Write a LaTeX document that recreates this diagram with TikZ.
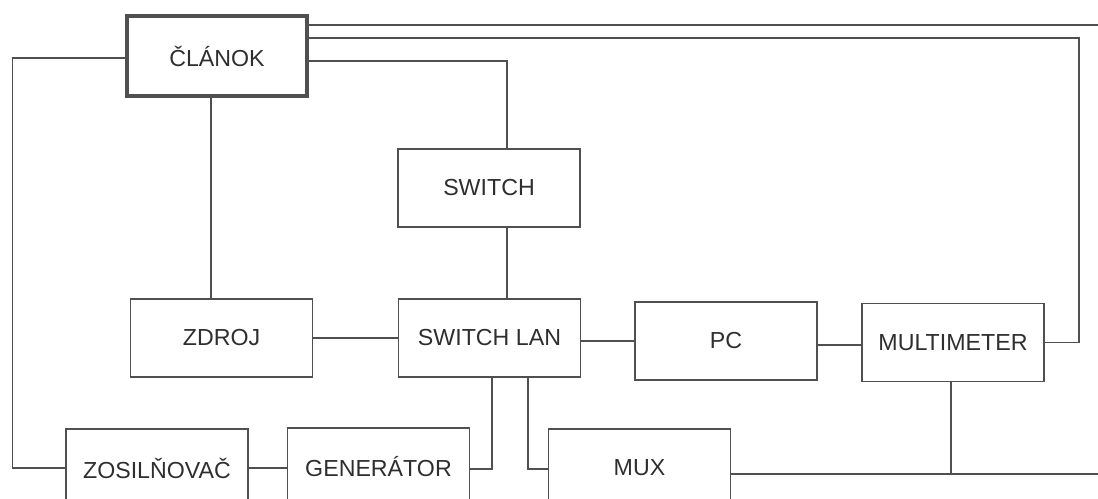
\documentclass[tikz,border=0pt]{standalone}
\usepackage{fontspec}
\setmainfont{Liberation Sans}
\usetikzlibrary{calc}

\definecolor{linegray}{HTML}{505050}
\definecolor{textgray}{HTML}{2E2E2E}

\begin{document}
\begin{tikzpicture}[
        x=0.025cm, y=-0.025cm,
        block/.style={
            draw=linegray,
            line width=1.3pt,
            minimum width=4.55cm,
            minimum height=1.95cm,
            inner sep=0pt,
            text=textgray,
            font=\fontsize{16.5}{19}\selectfont
        },
        mainblock/.style={block, line width=2.7pt, minimum width=4.5cm, minimum height=2cm},
        link/.style={draw=linegray, line width=1.3pt}
    ]

    \useasboundingbox (0,0) rectangle (1098,499);
    \clip (0,0) rectangle (1098,499);

    \node[mainblock] (clanok) at (217,56) {ČLÁNOK};

    \node[block] (switch) at (489,188) {SWITCH};

    \node[block] (zdroj) at (221.5,338) {ZDROJ};
    \node[block] (swlan) at (489.5,338) {SWITCH LAN};
    \node[block] (pc) at (726,341) {PC};
    \node[block] (multi) at (953,342.5) {MULTIMETER};

    \node[block] (zosil) at (157,468) {ZOSILŇOVAČ};
    \node[block] (gen) at (378.5,467) {GENERÁTOR};
    \node[block] (mux) at (639.5,468) {MUX};

    % turning points of the connectors
    \coordinate (topout) at (1110,25);
    \coordinate (mmturn) at (1079,38);
    \coordinate (swturn) at (507,61);
    \coordinate (leftturn) at (12.5,58);
    \coordinate (genturn) at (492,469);
    \coordinate (muxturn) at (528,469);
    \coordinate (botout) at (1110,474);
    \coordinate (mmjoin) at (951,474);

    \draw[link] (clanok.east |- topout) -- (topout);
    \draw[link] (clanok.east |- mmturn) -- (mmturn) |- (multi.east);
    \draw[link] (clanok.east |- swturn) -- (swturn) -- (swturn |- switch.north);
    \draw[link] (clanok.west |- leftturn) -- (leftturn) |- (zosil.west);
    \draw[link] ([xshift=-0.15cm]clanok.south) -- ([xshift=-0.15cm]clanok.south |- zdroj.north);

    \draw[link] (swturn |- switch.south) -- (swturn |- swlan.north);
    \draw[link] (zdroj.east) -- (swlan.west);
    \draw[link] (pc.west -| swlan.east) -- (pc.west);
    \draw[link] ([yshift=-0.1cm]pc.east) -- ([yshift=-0.1cm]pc.east -| multi.west);

    \draw[link] (zosil.east) -- (zosil.east -| gen.west);
    \draw[link] (gen.east |- genturn) -- (genturn) -- (genturn |- swlan.south);
    \draw[link] (muxturn |- swlan.south) -- (muxturn) -- (muxturn -| mux.west);
    \draw[link] (mux.east |- botout) -- (botout);
    \draw[link] (mmjoin |- multi.south) -- (mmjoin);

\end{tikzpicture}
\end{document}
